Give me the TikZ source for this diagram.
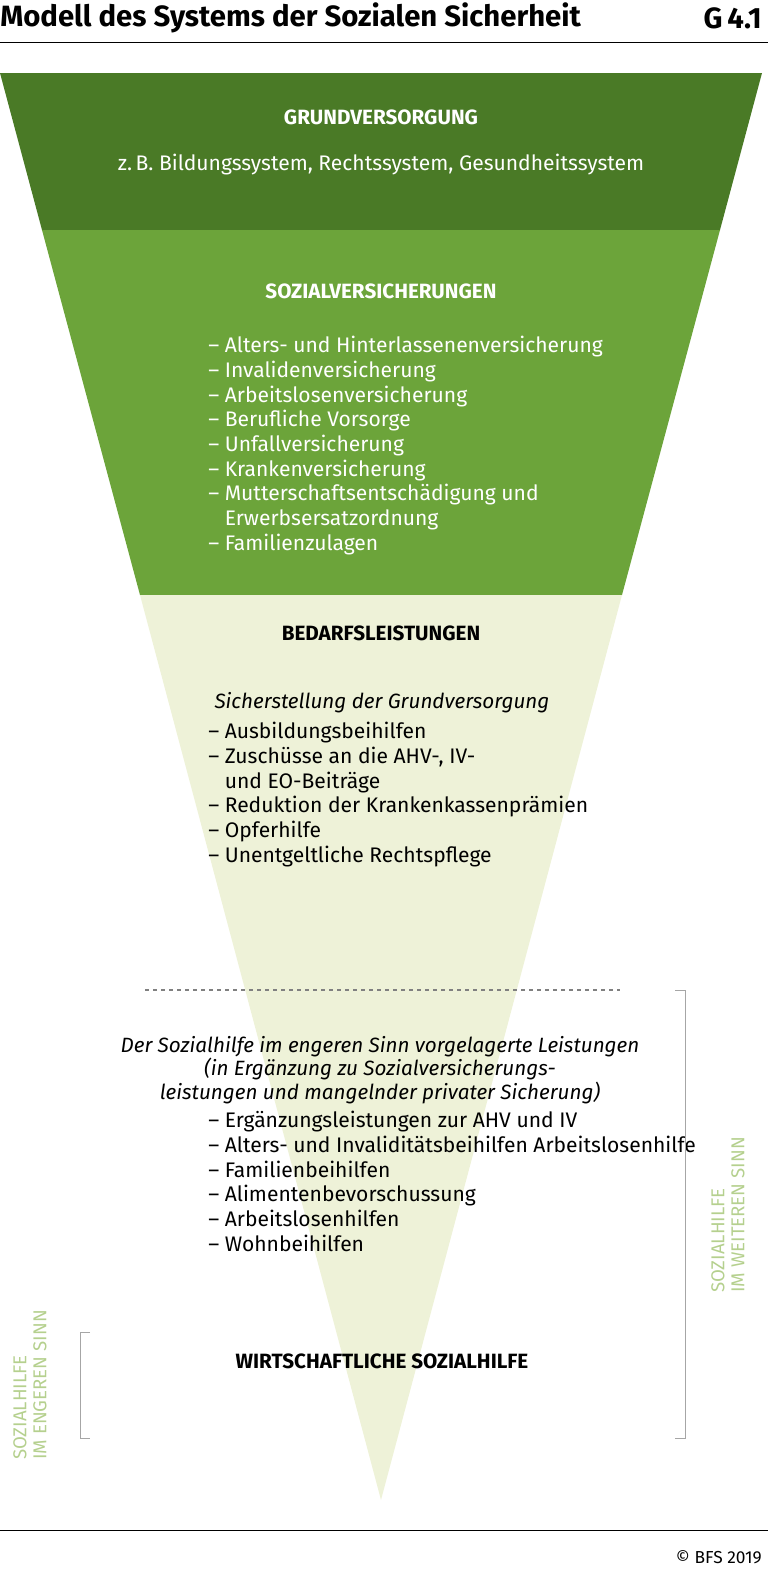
\documentclass[tikz,border=0pt]{standalone}
\usepackage{fontspec}
\setmainfont{Fira Sans}
\usetikzlibrary{positioning}
\definecolor{darkgreen}{HTML}{4A7A26}
\definecolor{midgreen}{HTML}{6CA43A}
\definecolor{lightgreen}{HTML}{EEF2D8}
\definecolor{labelgreen}{HTML}{B5D08E}
\tikzset{
  head/.style={font=\fontsize{15.5}{18}\selectfont\bfseries, text=#1},
  listtext/.style={anchor=north west, align=left, inner sep=0pt, text=#1,
    font=\fontsize{15.8}{18.5}\selectfont},
  side/.style={rotate=90, align=left, text=labelgreen, font=\fontsize{14}{15}\selectfont},
}
\begin{document}
\begin{tikzpicture}[x=0.75pt,y=-0.75pt]
    \useasboundingbox (0,0) rectangle (768,1578);

    % Title
    \node[anchor=west, inner sep=0pt, font=\fontsize{22}{24}\selectfont\bfseries] (title) at (0,18) {Modell des Systems der Sozialen Sicherheit};
    \node[anchor=east, inner sep=0pt, font=\fontsize{22}{24}\selectfont\bfseries] (gnum) at (762,18) {G\,4.1};
    \draw (0,42) -- (768,42);

    % Funnel bands
    \fill[darkgreen] (0,73) -- (762,73) -- (720,230) -- (42,230) -- cycle;
    \fill[midgreen] (42,230) -- (720,230) -- (622,595) -- (140,595) -- cycle;
    \fill[lightgreen] (140,595) -- (622,595) -- (381,1500) -- cycle;

    % Grundversorgung
    \node[head=white] (grund) at (381,117) {GRUNDVERSORGUNG};
    \node[text=white, font=\fontsize{15.8}{18}\selectfont] (grundbsp) at (381,165) {z.\,B. Bildungssystem, Rechtssystem, Gesundheitssystem};

    % Sozialversicherungen
    \node[head=white] (sozvers) at (381,291) {SOZIALVERSICHERUNGEN};
    \node[listtext=white] (sozlist) at (208,336) {– Alters- und Hinterlassenenversicherung\\
      – Invalidenversicherung\\
      – Arbeitslosenversicherung\\
      – Berufliche Vorsorge\\
      – Unfallversicherung\\
      – Krankenversicherung\\
      – Mutterschaftsentschädigung und\\
      \hphantom{– }Erwerbsersatzordnung\\
      – Familienzulagen};

    % Bedarfsleistungen
    \node[head=black] (bedarf) at (381,633) {BEDARFSLEISTUNGEN};
    \node[font=\fontsize{15.5}{18}\selectfont\itshape] (sicher) at (382,703) {Sicherstellung der Grundversorgung};
    \node[listtext=black] (bedlist) at (208,722) {– Ausbildungsbeihilfen\\
      – Zuschüsse an die AHV-, IV-\\
      \hphantom{– }und EO-Beiträge\\
      – Reduktion der Krankenkassenprämien\\
      – Opferhilfe\\
      – Unentgeltliche Rechtspflege};

    % Dashed separator
    \draw[dashed, gray, thick] (145,990) -- (620,990);

    % Vorgelagerte Leistungen
    \node[align=center, font=\fontsize{15.5}{15.8}\selectfont\itshape] (vorg) at (380,1070) {Der Sozialhilfe im engeren Sinn vorgelagerte Leistungen\\
      (in Ergänzung zu Sozialversicherungs-\\
      leistungen und mangelnder privater Sicherung)};
    \node[listtext=black] (vorglist) at (208,1111) {– Ergänzungsleistungen zur AHV und IV\\
      – Alters- und Invaliditätsbeihilfen Arbeitslosenhilfe\\
      – Familienbeihilfen\\
      – Alimentenbevorschussung\\
      – Arbeitslosenhilfen\\
      – Wohnbeihilfen};

    % Wirtschaftliche Sozialhilfe
    \node[head=black] (wirt) at (382,1361) {WIRTSCHAFTLICHE SOZIALHILFE};

    % Brackets
    \draw[gray!70] (675,990) -- (685,990) -- (685,1438) -- (675,1438);
    \draw[gray!70] (90,1332) -- (80,1332) -- (80,1438) -- (90,1438);
    \node[side] (weit) at (728,1215) {SOZIALHILFE\\IM WEITEREN SINN};
    \node[side] (eng) at (30,1385) {SOZIALHILFE\\IM ENGEREN SINN};

    % Footer
    \draw (0,1530) -- (768,1530);
    \node[anchor=east, inner sep=0pt, font=\fontsize{13}{15}\selectfont] (copy) at (762,1557) {© BFS 2019};

\end{tikzpicture}
\end{document}
